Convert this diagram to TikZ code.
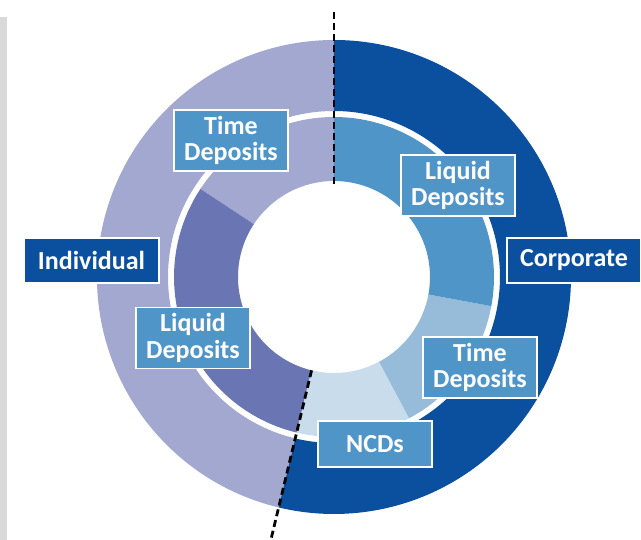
\documentclass[tikz,border=0pt]{standalone}
\usepackage{fontspec}
\setmainfont{Carlito}
\usepackage{xcolor}
\definecolor{corp}{HTML}{0B4F9F}
\definecolor{indiv}{HTML}{A3A8D0}
\definecolor{indivliq}{HTML}{6A76B3}
\definecolor{corpliq}{HTML}{5095C8}
\definecolor{corptime}{HTML}{97BCDA}
\definecolor{ncd}{HTML}{C8DCEB}
\definecolor{gr}{HTML}{D9D9D9}
\usetikzlibrary{calc}

\begin{document}
\begin{tikzpicture}[x=1pt, y=1pt,
  lbl/.style={draw=white, line width=1.5pt, fill=corpliq, text=white, align=center, inner sep=0pt,
    font=\fontsize{26}{26.5}\selectfont\bfseries, minimum width=114pt, minimum height=61pt},
  split/.style={black, line width=2.8pt, dash pattern=on 7pt off 4pt}]
\useasboundingbox (-334,-263) rectangle (307,277);
\fill[gr] (-334,-263) rectangle (-326.7,260);
\foreach \a/\b/\c in {90/256.5/indiv, 256.5/450/corp}{
\fill[fill=\c] (\a:166) arc (\a:\b:166) -- (\b:237) arc (\b:\a:237) -- cycle;
}
\foreach \a/\b/\c in {90/146.6/indiv, 146.6/256.5/indivliq, 256.5/298/ncd, 298/349.5/corptime, 349.5/450/corpliq}{
\fill[fill=\c] (\a:96) arc (\a:\b:96) -- (\b:160) arc (\b:\a:160) -- cycle;
}
\draw[split] (90:93) -- (90:267);
\draw[split] (256.5:96) -- (256.5:285);
\node[lbl] (tdi) at (-103,136.5) {Time\\Deposits};
\node[lbl] (ldc) at (124,91.5) {Liquid\\Deposits};
\node[lbl] (ldi) at (-141,-61) {Liquid\\Deposits};
\node[lbl] (tdc) at (146,-90.5) {Time\\Deposits};
\node[lbl, minimum height=46pt] (ncds) at (41,-167) {NCDs};
\node[lbl, fill=corp, minimum width=135pt, minimum height=45pt] (ind) at (-242.5,16.5) {Individual};
\node[lbl, fill=corp, minimum width=134pt, minimum height=45pt] (cor) at (240,16.5) {Corporate};
\end{tikzpicture}
\end{document}
